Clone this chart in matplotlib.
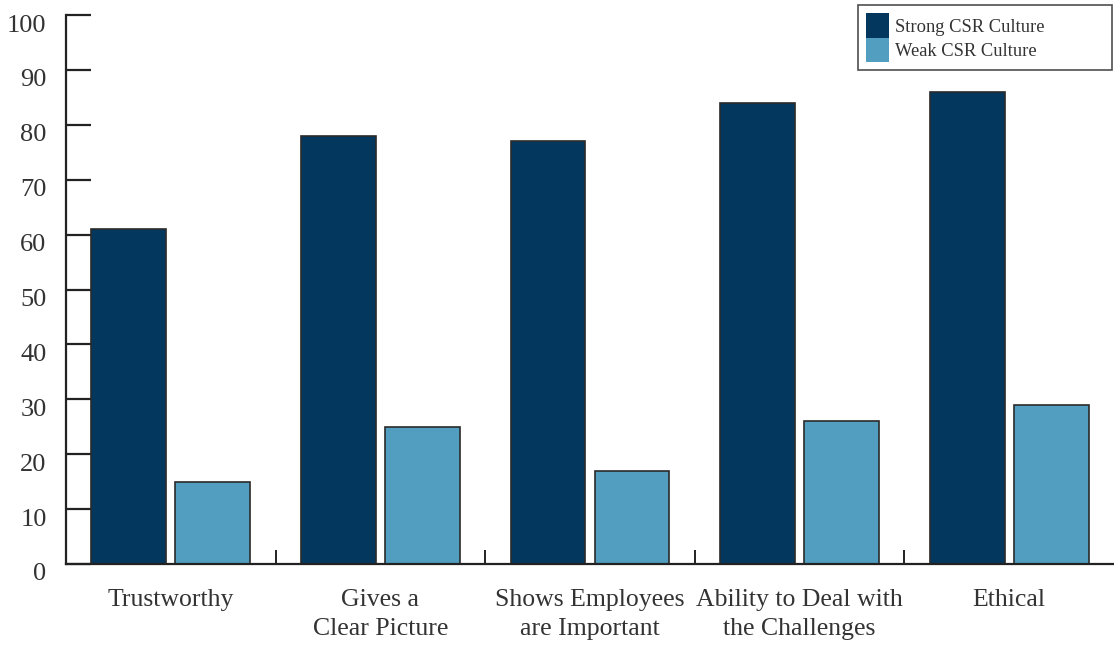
import numpy as np
import matplotlib
matplotlib.use("Agg")
import matplotlib.pyplot as plt
import matplotlib.transforms as mtransforms

categories = ["Trustworthy", "Gives a\nClear Picture", "Shows Employees\nare Important",
              "Ability to Deal with\nthe Challenges", "Ethical"]
strong = [61, 78, 77, 84, 86]
weak = [15, 25, 17, 26, 29]
series_names = ["Strong CSR Culture", "Weak CSR Culture"]

plt.rcParams['font.family'] = ['Liberation Serif', 'DejaVu Serif']

fig = plt.figure(figsize=(11.14, 6.45), dpi=100)
ax = fig.add_axes([66 / 1114, 1 - 564 / 645, 1 - 66 / 1114, (564 - 15) / 645])

x = np.arange(len(categories))
w = 0.357
ax.bar(x - 0.2, strong, w, color="#04375e", edgecolor="#2a2a2a", linewidth=1.2,
       label=series_names[0], zorder=2)
ax.bar(x + 0.2, weak, w, color="#529ec0", edgecolor="#2a2a2a", linewidth=1.2,
       label=series_names[1], zorder=2)

ax.set_xlim(-0.5, 4.5)
ax.set_ylim(0, 100)
ax.set_yticks(range(0, 101, 10))
ax.set_xticks(x)
ax.set_xticklabels(categories, fontsize=18.5, color="#333333", linespacing=1.4)
ax.set_xticks(x[:-1] + 0.5, minor=True)

for s in ["top", "right"]:
    ax.spines[s].set_visible(False)
for s in ["left", "bottom"]:
    ax.spines[s].set_linewidth(1.6)
    ax.spines[s].set_color("#222222")

ax.tick_params(axis="y", direction="in", length=18, width=1.6, color="#222222",
               labelsize=19, labelcolor="#333333", pad=14)
ax.tick_params(axis="x", which="major", length=0, pad=18)
ax.tick_params(axis="x", which="minor", direction="in", length=10, width=1.4, color="#222222")

# y labels sit a little below their ticks in the original
shift = mtransforms.ScaledTranslation(0, -8 / 100, fig.dpi_scale_trans)
for lab in ax.get_yticklabels():
    lab.set_transform(lab.get_transform() + shift)

leg = fig.legend(loc="upper left", bbox_to_anchor=(858 / 1114, 1 - 70 / 645, 254 / 1114, 65 / 645),
                 mode="expand", fontsize=13.3, frameon=True, fancybox=False, edgecolor="#222222",
                 handlelength=1.25, handleheight=1.65, handletextpad=0.3,
                 labelspacing=0.0, borderpad=0.45, borderaxespad=0)
leg.get_frame().set_linewidth(1.2)
for t in leg.get_texts():
    t.set_color("#333333")
for h in leg.legend_handles:
    h.set_edgecolor("none")

fig.savefig("out.png", dpi=100)
